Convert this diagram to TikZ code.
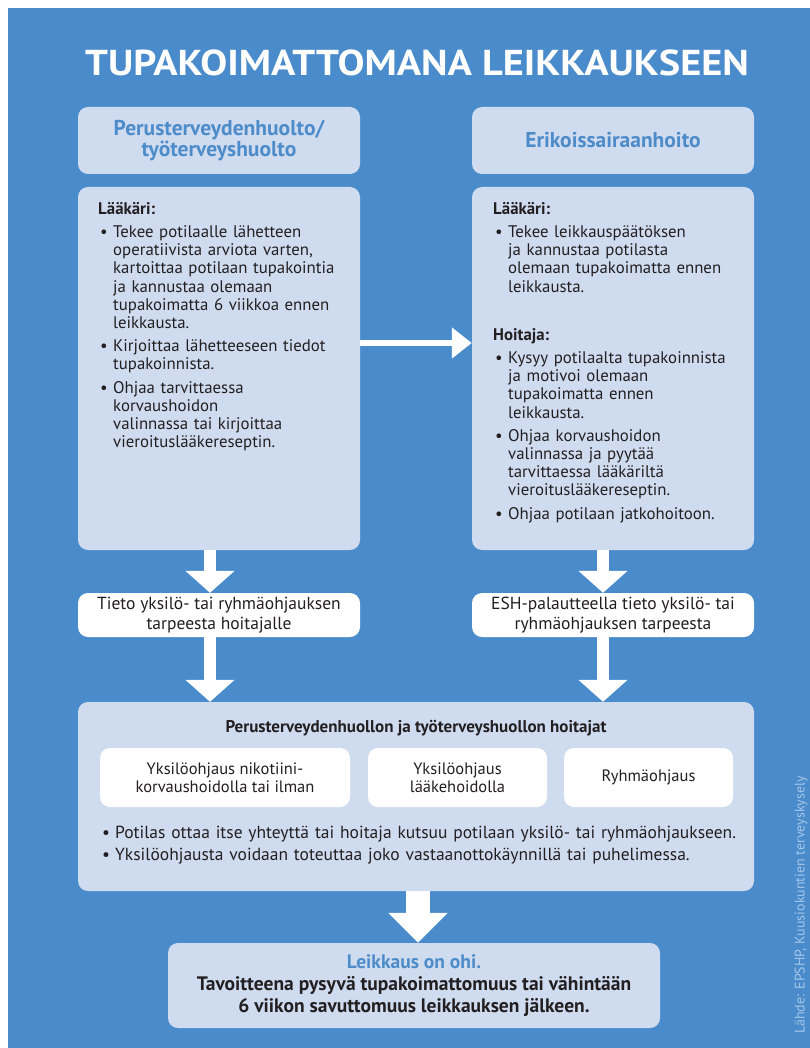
\documentclass[tikz,border=0pt]{standalone}
\usepackage{fontspec}
\setmainfont{PT Sans}
\usetikzlibrary{arrows.meta}

\definecolor{pohja}{RGB}{74,139,203}
\definecolor{laatikko}{RGB}{207,220,240}
\definecolor{otsikko}{RGB}{77,139,201}
\definecolor{teksti}{RGB}{35,31,32}
\definecolor{lahde}{RGB}{165,198,232}

\setlength{\parindent}{0pt}
\newcommand{\kohta}[1]{\par\vspace{5pt}\hangindent=15pt\hangafter=1\noindent\makebox[15pt][l]{\hspace{2pt}\textbullet}#1\par}

\tikzset{
  panel/.style={rectangle, rounded corners=10pt, fill=laatikko, inner sep=0pt},
  otsikkoteksti/.style={align=center, text=otsikko, font=\bfseries\fontsize{21.5}{21}\selectfont},
  valkoinen/.style={rectangle, rounded corners=10pt, fill=white, inner sep=0pt, align=center, text=teksti, font=\fontsize{17.5}{20}\selectfont},
  leipa/.style={anchor=north west, inner sep=0pt, text width=262pt, text=teksti, font=\fontsize{16.8}{18.2}\selectfont},
  nuoli/.style={draw=white, line width=12pt, -{Triangle[width=48pt,length=22pt]}},
  ohutnuoli/.style={draw=white, line width=6pt, -{Triangle[width=30pt,length=20pt]}},
  isonuoli/.style={draw=white, line width=24pt, -{Triangle[width=58pt,length=30pt]}},
}

\begin{document}
\begin{tikzpicture}[x=1pt, y=-1pt]
    \useasboundingbox (0,0) rectangle (810,1048);
    \fill[pohja] (8,8) rectangle (810,1048);

    \node[text=white, font=\bfseries\fontsize{36}{40}\selectfont] (otsikko) at (417,62.5) {\scalebox{1.12}[1]{TUPAKOIMATTOMANA LEIKKAUKSEEN}};

    % ylarivi
    \node[panel, otsikkoteksti, minimum width=282pt, minimum height=67pt] (hl) at (219,140.5) {Perusterveydenhuolto/\\työterveyshuolto};
    \node[panel, otsikkoteksti, minimum width=282pt, minimum height=67pt] (hr) at (613,140.5) {Erikoissairaanhoito};
    \node[panel, minimum width=282pt, minimum height=363pt] (ml) at (219,368.5) {};
    \node[panel, minimum width=282pt, minimum height=363pt] (mr) at (613,368.5) {};

    \node[leipa] (tekstil) at (98,202) {{\bfseries Lääkäri:}
        \kohta{Tekee potilaalle lähetteen\newline operatiivista arviota varten,\newline kartoittaa potilaan tupakointia\newline ja kannustaa olemaan\newline tupakoimatta 6 viikkoa ennen\newline leikkausta.}
        \kohta{Kirjoittaa lähetteeseen tiedot\newline tupakoinnista.}
        \kohta{Ohjaa tarvittaessa\newline korvaushoidon\newline valinnassa tai kirjoittaa\newline vieroituslääkereseptin.}};
    \node[leipa] (tekstir) at (493,202) {{\bfseries Lääkäri:}
        \kohta{Tekee leikkauspäätöksen\newline ja kannustaa potilasta\newline olemaan tupakoimatta ennen\newline leikkausta.}
        \vspace{30pt}{\bfseries Hoitaja:}
        \kohta{Kysyy potilaalta tupakoinnista\newline ja motivoi olemaan\newline tupakoimatta ennen\newline leikkausta.}
        \kohta{Ohjaa korvaushoidon\newline valinnassa ja pyytää\newline tarvittaessa lääkäriltä\newline vieroituslääkereseptin.}
        \kohta{Ohjaa potilaan jatkohoitoon.}};

    \node[valkoinen, minimum width=282pt, minimum height=44pt] (tl) at (219,615) {Tieto yksilö- tai ryhmäohjauksen\\tarpeesta hoitajalle};
    \node[valkoinen, minimum width=282pt, minimum height=44pt] (tr) at (613,615) {ESH-palautteella tieto yksilö- tai\\ryhmäohjauksen tarpeesta};

    % hoitajat
    \node[panel, minimum width=676pt, minimum height=189pt] (hoit) at (416,796.5) {};
    \node[text=teksti, font=\bfseries\fontsize{17}{18}\selectfont] (hoitots) at (416,728) {Perusterveydenhuollon ja työterveyshuollon hoitajat};
    \node[valkoinen, font=\fontsize{16.5}{17.5}\selectfont, minimum width=250pt, minimum height=59pt] (y1) at (225,777.5) {Yksilöohjaus nikotiini-\\korvaushoidolla tai ilman};
    \node[valkoinen, font=\fontsize{16.5}{17.5}\selectfont, minimum width=179pt, minimum height=59pt] (y2) at (457.5,777.5) {Yksilöohjaus\\lääkehoidolla};
    \node[valkoinen, font=\fontsize{16.5}{17.5}\selectfont, minimum width=169pt, minimum height=59pt] (y3) at (648.5,777.5) {Ryhmäohjaus};
    \node[leipa, text width=660pt, font=\fontsize{17.5}{17}\selectfont] (hoitteksti) at (100,816) {%
        \kohta{Potilas ottaa itse yhteyttä tai hoitaja kutsuu potilaan yksilö- tai ryhmäohjaukseen.}
        \kohta{Yksilöohjausta voidaan toteuttaa joko vastaanottokäynnillä tai puhelimessa.}};

    \node[panel, align=center, text=teksti, font=\bfseries\fontsize{19.5}{22}\selectfont, minimum width=492pt, minimum height=85pt] (loppu) at (414,985.5) {{\color{otsikko}Leikkaus on ohi.}\\Tavoitteena pysyvä tupakoimattomuus tai vähintään\\6 viikon savuttomuus leikkauksen jälkeen.};

    \node[rotate=90, text=lahde, font=\fontsize{14}{15}\selectfont] (lahde) at (801,905) {Lähde: EPSHP, Kuusiokuntien terveyskysely};

    \coordinate (al) at (210,0);
    \coordinate (ar) at (603,0);
    \coordinate (ah) at (0,343);
    \draw[ohutnuoli] (ml.east |- ah) -- (mr.west |- ah);
    \draw[nuoli] (ml.south -| al) -- (tl.north -| al);
    \draw[nuoli] (mr.south -| ar) -- (tr.north -| ar);
    \draw[nuoli] (tl.south -| al) -- (hoit.north -| al);
    \draw[nuoli] (tr.south -| ar) -- (hoit.north -| ar);
    \draw[isonuoli] (hoit.south -| 418,0) -- (loppu.north -| 418,0);
\end{tikzpicture}
\end{document}
